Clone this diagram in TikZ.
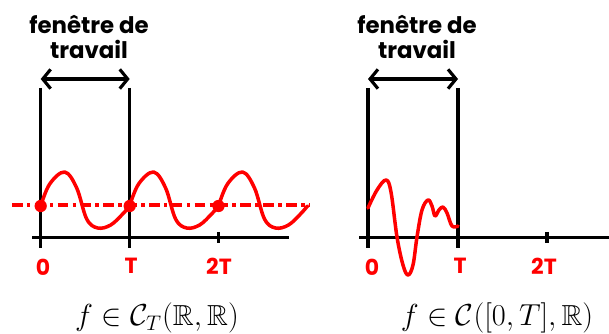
\documentclass[tikz,border=0pt]{standalone}
\usepackage{amssymb}
\usepackage{fontspec}
\newfontfamily\handfont{Poppins}
\usetikzlibrary{positioning,arrows.meta}

\tikzset{
  axe/.style={line width=2pt},
  fleche/.style={line width=1.8pt,{Straight Barb[length=4.5pt,width=11pt]}-{Straight Barb[length=4.5pt,width=11pt]}},
  courbe/.style={red,line width=2pt,line join=round,line cap=round},
  moyenne/.style={red,line width=1.9pt,dash pattern=on 6pt off 2.5pt on 2pt off 2.5pt},
  titre/.style={align=center,inner sep=0pt,font=\handfont\bfseries\fontsize{13}{14.2}\selectfont},
  graduation/.style={text=red,inner sep=0pt,font=\handfont\bfseries\fontsize{12.5}{13}\selectfont},
  espace/.style={inner sep=0pt,font=\fontsize{16.5}{18}\selectfont},
  point/.style={circle,fill=red,inner sep=0pt,minimum size=7pt}
}

\begin{document}
\begin{tikzpicture}[x=0.02cm,y=-0.02cm]
  \useasboundingbox (0,0) rectangle (609,334);

  % fonction periodique
  \coordinate (ga) at (32,237.7); \coordinate (gb) at (289,237.7);
  \coordinate (zh) at (40.7,88); \coordinate (zb) at (40.7,248);
  \coordinate (th) at (129.7,88); \coordinate (tb) at (129.7,248);
  \coordinate (dh) at (218.5,232); \coordinate (db) at (218.5,243);
  \coordinate (fa) at (40.7,79); \coordinate (fb) at (129.7,79);
  \coordinate (ma) at (12,205); \coordinate (mb) at (309,205);
  \draw[axe] (ga) -- (gb); \draw[axe] (zh) -- (zb); \draw[axe] (th) -- (tb); \draw[axe] (dh) -- (db);
  \draw[fleche] (fa) -- (fb);
  \draw[moyenne] (ma) -- (mb);
  \foreach \k in {0,1,2}
    \draw[courbe,shift={(\k*88.9,0)}] plot[smooth,tension=0.6] coordinates
      {(40.7,206) (49.7,184) (64.7,172) (76.7,188) (86.7,219) (97.7,228) (110.7,225) (122.7,214) (129.7,206)};
  \node[point] (p0) at (40.7,206) {};
  \node[point] (p1) at (129.7,206) {};
  \node[point] (p2) at (218.5,206) {};
  \node[titre] (ta) at (89,37) {fenêtre de\\travail};
  \node[graduation] (la) at (43,267) {0};
  \node[graduation] (lb) at (131,266) {T};
  \node[graduation] (lc) at (219,266) {2T};
  \node[espace] (ea) at (157,318) {$f\in\mathcal{C}_T(\mathbb{R},\mathbb{R})$};

  % fonction sur [0,T]
  \coordinate (Ga) at (359,237.7); \coordinate (Gb) at (609,237.7);
  \coordinate (Zh) at (368,88); \coordinate (Zb) at (368,248);
  \coordinate (Th) at (458,88); \coordinate (Tb) at (458,248);
  \coordinate (Dh) at (547,232); \coordinate (Db) at (547,243);
  \coordinate (Fa) at (368,79); \coordinate (Fb) at (458,79);
  \draw[axe] (Ga) -- (Gb); \draw[axe] (Zh) -- (Zb); \draw[axe] (Th) -- (Tb); \draw[axe] (Dh) -- (Db);
  \draw[fleche] (Fa) -- (Fb);
  \draw[courbe] plot[smooth,tension=0.6] coordinates
    {(368,208) (377,190) (386,180) (391,192) (397,237) (403,265) (408,275) (413,265) (417,237)
     (422,210) (428,200) (432,206) (435,216) (439,210) (443,207) (447,213) (452,226) (458,226)};
  \node[titre] (tA) at (417,37) {fenêtre de\\travail};
  \node[graduation] (lA) at (372,267) {0};
  \node[graduation] (lB) at (460,266) {T};
  \node[graduation] (lC) at (544,266) {2T};
  \node[espace] (eA) at (497,318) {$f\in\mathcal{C}([0,T],\mathbb{R})$};
\end{tikzpicture}
\end{document}
